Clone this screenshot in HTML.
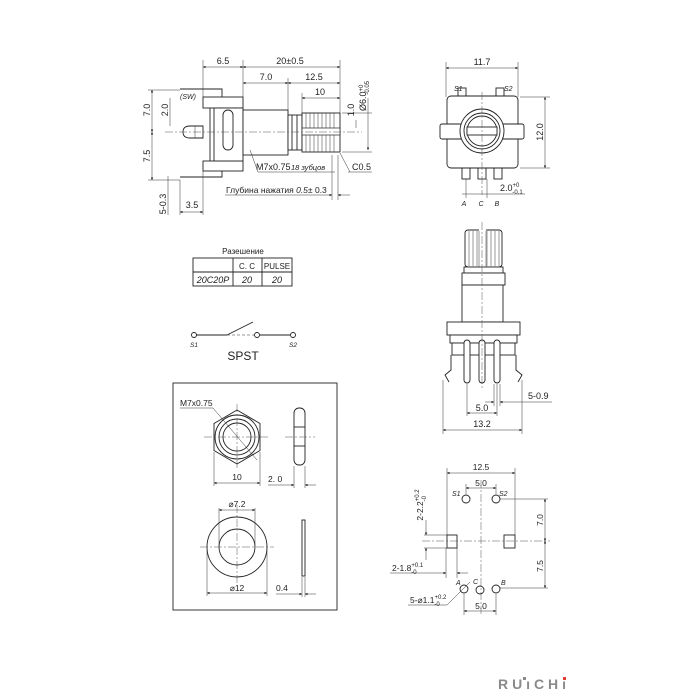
<!DOCTYPE html>
<html><head><meta charset="utf-8"><style>
html,body{margin:0;padding:0;background:#fff}
svg{display:block}
text{font-family:"Liberation Sans",sans-serif;fill:#222}
.s{stroke:#222;fill:none;stroke-width:0.9}
.t{stroke:#333;fill:none;stroke-width:0.5}
.c{stroke:#555;fill:none;stroke-width:0.5;stroke-dasharray:8 2 2 2}
.f{fill:#fff;stroke:#222;stroke-width:0.9}
</style></head><body>
<svg width="700" height="700" viewBox="0 0 700 700" xmlns="http://www.w3.org/2000/svg">
<defs><marker id="a" viewBox="0 0 6 6" refX="6" refY="3" markerWidth="5" markerHeight="5" orient="auto-start-reverse"><path d="M0,0 L6,3 L0,6z" fill="#222"/></marker></defs>

<!-- ===== SIDE VIEW ===== -->
<g font-size="9">
<line class="t" x1="203" y1="60" x2="203" y2="98"/><line class="t" x1="243" y1="60" x2="243" y2="110"/><line class="t" x1="340" y1="60" x2="340" y2="113"/>
<line class="t" x1="288" y1="78" x2="288" y2="115"/><line class="t" x1="302" y1="93" x2="302" y2="113"/>
<line class="t" x1="203" y1="67" x2="243" y2="67" marker-start="url(#a)" marker-end="url(#a)"/>
<line class="t" x1="243" y1="67" x2="340" y2="67" marker-start="url(#a)" marker-end="url(#a)"/>
<line class="t" x1="243" y1="83" x2="288" y2="83" marker-start="url(#a)" marker-end="url(#a)"/>
<line class="t" x1="288" y1="83" x2="340" y2="83" marker-start="url(#a)" marker-end="url(#a)"/>
<line class="t" x1="302" y1="98" x2="340" y2="98" marker-start="url(#a)" marker-end="url(#a)"/>
<text x="223" y="64" text-anchor="middle">6.5</text><text x="290" y="64" text-anchor="middle">20±0.5</text>
<text x="266" y="80" text-anchor="middle">7.0</text><text x="314" y="80" text-anchor="middle">12.5</text>
<text x="320" y="95" text-anchor="middle">10</text>
<path class="s" d="M180,89 L222,89 L222,97"/><text x="180" y="99" font-size="7" font-style="italic">(SW)</text>
<path class="s" d="M180,177 L222,177 L222,170"/>
<rect class="f" x="203" y="97" width="40" height="11"/>
<rect class="f" x="203" y="161" width="40" height="10"/>
<rect class="f" x="214" y="108" width="29" height="53"/>
<rect class="s" x="223" y="110" width="10" height="40" rx="5"/>
<line class="s" x1="210" y1="108" x2="210" y2="161"/>
<path class="f" d="M203,126 L190,126 Q183,126 183,132 Q183,138 190,138 L203,138z"/>
<line class="t" x1="195" y1="126" x2="195" y2="138"/>
<rect class="f" x="243" y="110" width="45" height="45"/>
<rect class="f" x="288" y="115" width="14" height="35"/>
<line class="s" x1="292" y1="115" x2="292" y2="150"/><line class="s" x1="297" y1="115" x2="297" y2="150"/>
<rect class="f" x="302" y="113" width="38" height="39"/>
<g class="t"><line x1="306" y1="113" x2="306" y2="152"/><line x1="310" y1="113" x2="310" y2="152"/><line x1="314" y1="113" x2="314" y2="152"/><line x1="318" y1="113" x2="318" y2="152"/><line x1="322" y1="113" x2="322" y2="152"/><line x1="326" y1="113" x2="326" y2="152"/><line x1="330" y1="113" x2="330" y2="152"/><line x1="334" y1="113" x2="334" y2="152"/></g>
<rect x="302" y="128" width="38" height="7" fill="#fff" stroke="#222" stroke-width="0.7"/>
<line class="c" x1="165" y1="132" x2="362" y2="132"/>
<line class="t" x1="148" y1="90" x2="180" y2="90"/><line class="t" x1="148" y1="180" x2="180" y2="180"/>
<line class="t" x1="152" y1="90" x2="152" y2="132" marker-start="url(#a)" marker-end="url(#a)"/>
<line class="t" x1="152" y1="132" x2="152" y2="180" marker-start="url(#a)" marker-end="url(#a)"/>
<text transform="translate(150,110) rotate(-90)" text-anchor="middle">7.0</text>
<text transform="translate(150,156) rotate(-90)" text-anchor="middle">7.5</text>
<line class="t" x1="170" y1="98" x2="170" y2="126"/><text transform="translate(168,110) rotate(-90)" text-anchor="middle">2.0</text>
<line class="t" x1="168" y1="176" x2="168" y2="215"/><line class="t" x1="180" y1="180" x2="180" y2="215"/>
<text transform="translate(166,204) rotate(-90)" text-anchor="middle">5-0.3</text>
<line class="t" x1="180" y1="212" x2="203" y2="212" marker-start="url(#a)" marker-end="url(#a)"/>
<line class="t" x1="203" y1="171" x2="203" y2="215"/>
<text x="192" y="208" text-anchor="middle">3.5</text>
<line class="t" x1="342" y1="113" x2="372" y2="113"/><line class="t" x1="342" y1="152" x2="372" y2="152"/>
<line class="t" x1="368" y1="98" x2="368" y2="150" marker-end="url(#a)"/>
<text transform="translate(366,96) rotate(-90)" text-anchor="middle">Ø6.0<tspan font-size="6" dy="-3">+0</tspan><tspan font-size="6" dx="-10" dy="6">-0.05</tspan></text>
<line class="t" x1="356" y1="120" x2="356" y2="128"/>
<text transform="translate(354,110) rotate(-90)" text-anchor="middle">1.0</text>
<line class="t" x1="250" y1="150" x2="258" y2="172"/><line class="t" x1="258" y1="172" x2="335" y2="172"/>
<text x="256" y="170">M7x0.75</text><text x="291" y="170" font-size="7.5" font-style="italic">18 зубцов</text>
<line class="t" x1="340" y1="153" x2="350" y2="172"/><line class="t" x1="348" y1="172" x2="372" y2="172"/>
<text x="352" y="170">C0.5</text>
<line class="t" x1="332" y1="155" x2="332" y2="200"/><line class="t" x1="338" y1="155" x2="338" y2="200"/>
<line class="t" x1="225" y1="195" x2="332" y2="195" marker-end="url(#a)"/><line class="t" x1="350" y1="195" x2="338" y2="195" marker-end="url(#a)"/>
<text x="226" y="193" font-size="8.5">Глубина нажатия <tspan font-style="italic">0.5</tspan>± 0.3</text>
</g>

<!-- ===== FRONT VIEW ===== -->
<g font-size="9">
<line class="t" x1="446" y1="62" x2="446" y2="97"/><line class="t" x1="518" y1="62" x2="518" y2="97"/>
<line class="t" x1="446" y1="68" x2="518" y2="68" marker-start="url(#a)" marker-end="url(#a)"/>
<text x="482" y="65" text-anchor="middle">11.7</text>
<rect class="f" x="458" y="88" width="8" height="8"/><rect class="f" x="496" y="88" width="8" height="8"/>
<text x="454" y="91" font-size="7" font-style="italic">S1</text><text x="504" y="91" font-size="7" font-style="italic">S2</text>
<rect class="f" x="462" y="167" width="8" height="12"/><rect class="f" x="478" y="167" width="8" height="12"/><rect class="f" x="494" y="167" width="8" height="12"/>
<rect class="f" x="447" y="96" width="71" height="72" rx="4"/>
<rect class="f" x="440" y="124" width="84" height="15" rx="2"/>
<circle class="f" cx="482" cy="131" r="22"/><circle class="s" cx="482" cy="131" r="18"/><circle class="s" cx="482" cy="131" r="15"/>
<rect class="f" x="467" y="127" width="30" height="8"/>
<line class="c" x1="482" y1="92" x2="482" y2="195"/>
<line class="t" x1="520" y1="97" x2="550" y2="97"/><line class="t" x1="520" y1="168" x2="550" y2="168"/>
<line class="t" x1="545" y1="97" x2="545" y2="168" marker-start="url(#a)" marker-end="url(#a)"/>
<text transform="translate(543,132) rotate(-90)" text-anchor="middle">12.0</text>
<line class="t" x1="466" y1="179" x2="466" y2="198"/><line class="t" x1="487" y1="179" x2="487" y2="198"/>
<line class="t" x1="462" y1="194" x2="525" y2="194"/>
<text x="500" y="191">2.0<tspan font-size="6" dy="-4">+0</tspan><tspan font-size="6" dx="-7" dy="7">-0.1</tspan></text>
<g font-size="7" font-style="italic" text-anchor="middle"><text x="464" y="206">A</text><text x="481" y="206">C</text><text x="497" y="206">B</text></g>
</g>

<!-- ===== TABLE ===== -->
<g font-size="8">
<text x="243" y="254" text-anchor="middle">Разешение</text>
<rect class="s" x="193" y="258" width="99" height="28"/>
<line class="s" x1="193" y1="272" x2="292" y2="272"/>
<line class="s" x1="233" y1="258" x2="233" y2="286"/><line class="s" x1="262" y1="258" x2="262" y2="286"/>
<text x="247" y="269" text-anchor="middle">C. C</text><text x="277" y="269" text-anchor="middle">PULSE</text>
<g font-style="italic" font-size="9" text-anchor="middle"><text x="213" y="283">20C20P</text><text x="247" y="283">20</text><text x="277" y="283">20</text></g>
</g>
<g>
<circle class="s" cx="194" cy="335" r="2.5"/><circle class="s" cx="257" cy="335" r="2.5"/><circle class="s" cx="293" cy="335" r="2.5"/>
<line class="s" x1="196" y1="335" x2="227" y2="335"/><line class="s" x1="227" y1="335" x2="253" y2="322"/>
<line class="t" x1="227" y1="335" x2="254" y2="335" stroke-dasharray="3 2"/>
<line class="s" x1="260" y1="335" x2="290" y2="335"/>
<text x="190" y="347" font-size="6.5" font-style="italic">S1</text><text x="289" y="347" font-size="6.5" font-style="italic">S2</text>
<text x="243" y="360" font-size="12" text-anchor="middle">SPST</text>
</g>

<!-- ===== ASSEMBLY VIEW ===== -->
<g font-size="9">
<rect class="f" x="465" y="230" width="37" height="37" rx="3"/>
<g class="t"><line x1="469" y1="231" x2="469" y2="266"/><line x1="473" y1="231" x2="473" y2="266"/><line x1="477" y1="231" x2="477" y2="266"/><line x1="487" y1="231" x2="487" y2="266"/><line x1="491" y1="231" x2="491" y2="266"/><line x1="495" y1="231" x2="495" y2="266"/><line x1="499" y1="231" x2="499" y2="266"/></g>
<rect x="479" y="226" width="7" height="42" fill="#fff"/><line class="t" x1="479" y1="231" x2="479" y2="268"/><line class="t" x1="486" y1="231" x2="486" y2="268"/>
<rect class="f" x="464" y="267" width="39" height="6"/><rect class="f" x="462" y="273" width="43" height="12"/>
<rect class="f" x="462" y="285" width="41" height="37"/>
<rect class="f" x="447" y="322" width="73" height="13"/>
<rect class="f" x="450" y="335" width="67" height="8"/>
<rect class="f" x="452" y="343" width="63" height="12"/>
<g class="f"><rect x="464" y="340" width="6" height="43" rx="3"/><rect x="479" y="340" width="6" height="43" rx="3"/><rect x="494" y="340" width="6" height="43" rx="3"/></g>
<path class="s" d="M451,355 L451,370 L445,375 L449,382"/><path class="s" d="M516,355 L516,370 L522,375 L518,382"/>
<line class="c" x1="482" y1="222" x2="482" y2="390"/>
<line class="t" x1="443" y1="380" x2="443" y2="434"/><line class="t" x1="522" y1="380" x2="522" y2="434"/>
<line class="t" x1="467" y1="384" x2="467" y2="416"/><line class="t" x1="497" y1="384" x2="497" y2="416"/><line class="t" x1="494" y1="384" x2="494" y2="406"/><line class="t" x1="500" y1="384" x2="500" y2="406"/>
<line class="t" x1="485" y1="402" x2="494" y2="402" marker-end="url(#a)"/><line class="t" x1="510" y1="402" x2="500" y2="402" marker-end="url(#a)"/><line class="t" x1="510" y1="402" x2="552" y2="402"/>
<text x="528" y="399">5-0.9</text>
<line class="t" x1="467" y1="413" x2="497" y2="413" marker-start="url(#a)" marker-end="url(#a)"/><text x="482" y="411" text-anchor="middle">5.0</text>
<line class="t" x1="443" y1="430" x2="522" y2="430" marker-start="url(#a)" marker-end="url(#a)"/><text x="482" y="427" text-anchor="middle">13.2</text>
</g>

<!-- ===== NUT BOX ===== -->
<g font-size="8.5">
<rect class="s" x="173" y="383" width="164" height="227"/>
<polygon class="f" points="237,410 260,423.5 260,450.5 237,464 214,450.5 214,423.5"/>
<circle class="s" cx="237" cy="437" r="22"/><circle class="s" cx="237" cy="437" r="18"/><circle class="s" cx="237" cy="437" r="14"/>
<line class="c" x1="204" y1="437" x2="270" y2="437"/><line class="c" x1="237" y1="404" x2="237" y2="470"/>
<line class="t" x1="180" y1="408" x2="213" y2="408"/><line class="t" x1="213" y1="408" x2="257" y2="460"/>
<text x="180" y="406">M7x0.75</text>
<line class="t" x1="214" y1="452" x2="214" y2="486"/><line class="t" x1="260" y1="452" x2="260" y2="486"/>
<line class="t" x1="214" y1="483" x2="260" y2="483" marker-start="url(#a)" marker-end="url(#a)"/><text x="237" y="480" text-anchor="middle">10</text>
<rect class="f" x="294" y="408" width="11" height="57" rx="5"/>
<line class="s" x1="294" y1="427" x2="305" y2="427"/><line class="s" x1="294" y1="446" x2="305" y2="446"/>
<line class="c" x1="285" y1="437" x2="315" y2="437"/>
<line class="t" x1="294" y1="466" x2="294" y2="488"/><line class="t" x1="305" y1="466" x2="305" y2="488"/>
<line class="t" x1="268" y1="485" x2="294" y2="485" marker-end="url(#a)"/><line class="t" x1="316" y1="485" x2="305" y2="485" marker-end="url(#a)"/>
<text x="268" y="482">2. 0</text>
<circle class="s" cx="237" cy="547" r="30"/><circle class="s" cx="237" cy="547" r="18"/>
<line class="c" x1="200" y1="547" x2="274" y2="547"/><line class="c" x1="237" y1="505" x2="237" y2="585"/>
<line class="t" x1="219" y1="508" x2="219" y2="547"/><line class="t" x1="255" y1="508" x2="255" y2="547"/>
<line class="t" x1="219" y1="510" x2="255" y2="510" marker-start="url(#a)" marker-end="url(#a)"/><text x="237" y="507" text-anchor="middle">⌀7.2</text>
<line class="t" x1="207" y1="550" x2="207" y2="596"/><line class="t" x1="267" y1="550" x2="267" y2="596"/>
<line class="t" x1="207" y1="593" x2="267" y2="593" marker-start="url(#a)" marker-end="url(#a)"/><text x="237" y="591" text-anchor="middle">⌀12</text>
<rect class="f" x="302" y="520" width="3" height="56"/>
<line class="t" x1="302" y1="577" x2="302" y2="597"/><line class="t" x1="305" y1="577" x2="305" y2="597"/>
<line class="t" x1="276" y1="594" x2="302" y2="594" marker-end="url(#a)"/><line class="t" x1="316" y1="594" x2="305" y2="594" marker-end="url(#a)"/>
<text x="276" y="591">0.4</text>
</g>

<!-- ===== FOOTPRINT ===== -->
<g font-size="8.5">
<line class="t" x1="447" y1="468" x2="447" y2="535"/><line class="t" x1="515" y1="468" x2="515" y2="535"/>
<line class="t" x1="447" y1="473" x2="515" y2="473" marker-start="url(#a)" marker-end="url(#a)"/><text x="481" y="470" text-anchor="middle">12.5</text>
<line class="t" x1="466" y1="484" x2="466" y2="494"/><line class="t" x1="496" y1="484" x2="496" y2="494"/>
<line class="t" x1="466" y1="488" x2="496" y2="488" marker-start="url(#a)" marker-end="url(#a)"/><text x="481" y="486" text-anchor="middle">5.0</text>
<text x="452" y="496" font-size="7" font-style="italic">S1</text><text x="499" y="496" font-size="7" font-style="italic">S2</text>
<circle class="s" cx="466" cy="499" r="4"/><circle class="s" cx="496" cy="499" r="4"/>
<rect class="s" x="447" y="535" width="10" height="13"/><rect class="s" x="504" y="535" width="11" height="13"/>
<line class="c" x1="422" y1="541" x2="550" y2="541"/><line class="c" x1="481" y1="480" x2="481" y2="615"/>
<circle class="s" cx="464" cy="589" r="4"/><circle class="s" cx="480" cy="590" r="4"/><circle class="s" cx="496" cy="589" r="4"/>
<g font-size="7" font-style="italic"><text x="456" y="585">A</text><text x="473" y="584">C</text><text x="501" y="585">B</text></g>
<line class="t" x1="500" y1="499" x2="548" y2="499"/><line class="t" x1="500" y1="588" x2="548" y2="588"/>
<line class="t" x1="545" y1="499" x2="545" y2="541" marker-start="url(#a)" marker-end="url(#a)"/>
<line class="t" x1="545" y1="541" x2="545" y2="588" marker-start="url(#a)" marker-end="url(#a)"/>
<text transform="translate(543,520) rotate(-90)" text-anchor="middle">7.0</text>
<text transform="translate(543,566) rotate(-90)" text-anchor="middle">7.5</text>
<line class="t" x1="424" y1="535" x2="447" y2="535"/><line class="t" x1="424" y1="548" x2="447" y2="548"/>
<line class="t" x1="426" y1="520" x2="426" y2="535" marker-end="url(#a)"/><line class="t" x1="426" y1="560" x2="426" y2="548" marker-end="url(#a)"/>
<text transform="translate(423,505) rotate(-90)" text-anchor="middle">2-2.2<tspan font-size="6" dy="-4">+0.2</tspan><tspan font-size="6" dx="-12" dy="7">-0</tspan></text>
<line class="t" x1="446" y1="548" x2="446" y2="578"/><line class="t" x1="457" y1="548" x2="457" y2="578"/>
<line class="t" x1="390" y1="573" x2="446" y2="573" marker-end="url(#a)"/><line class="t" x1="468" y1="573" x2="457" y2="573" marker-end="url(#a)"/>
<text x="392" y="571">2-1.8<tspan font-size="6" dy="-4">+0.1</tspan><tspan font-size="6" dx="-12" dy="7">-0</tspan></text>
<line class="t" x1="408" y1="605" x2="447" y2="605"/><line class="t" x1="447" y1="605" x2="470" y2="582"/>
<text x="410" y="603">5-⌀1.1<tspan font-size="6" dy="-4">+0.2</tspan><tspan font-size="6" dx="-12" dy="7">-0</tspan></text>
<line class="t" x1="464" y1="594" x2="464" y2="615"/><line class="t" x1="496" y1="594" x2="496" y2="615"/>
<line class="t" x1="464" y1="611" x2="496" y2="611" marker-start="url(#a)" marker-end="url(#a)"/><text x="481" y="609" text-anchor="middle">5.0</text>
</g>

<!-- logo -->
<text x="498" y="689" font-size="14" font-weight="bold" textLength="68" lengthAdjust="spacing" style="fill:#8a8a8a">RUıCHı</text>
<rect x="523" y="677" width="3" height="3" fill="#8a8a8a"/>
<rect x="563" y="677" width="3" height="3" fill="#e53935"/>
</svg>
</body></html>
